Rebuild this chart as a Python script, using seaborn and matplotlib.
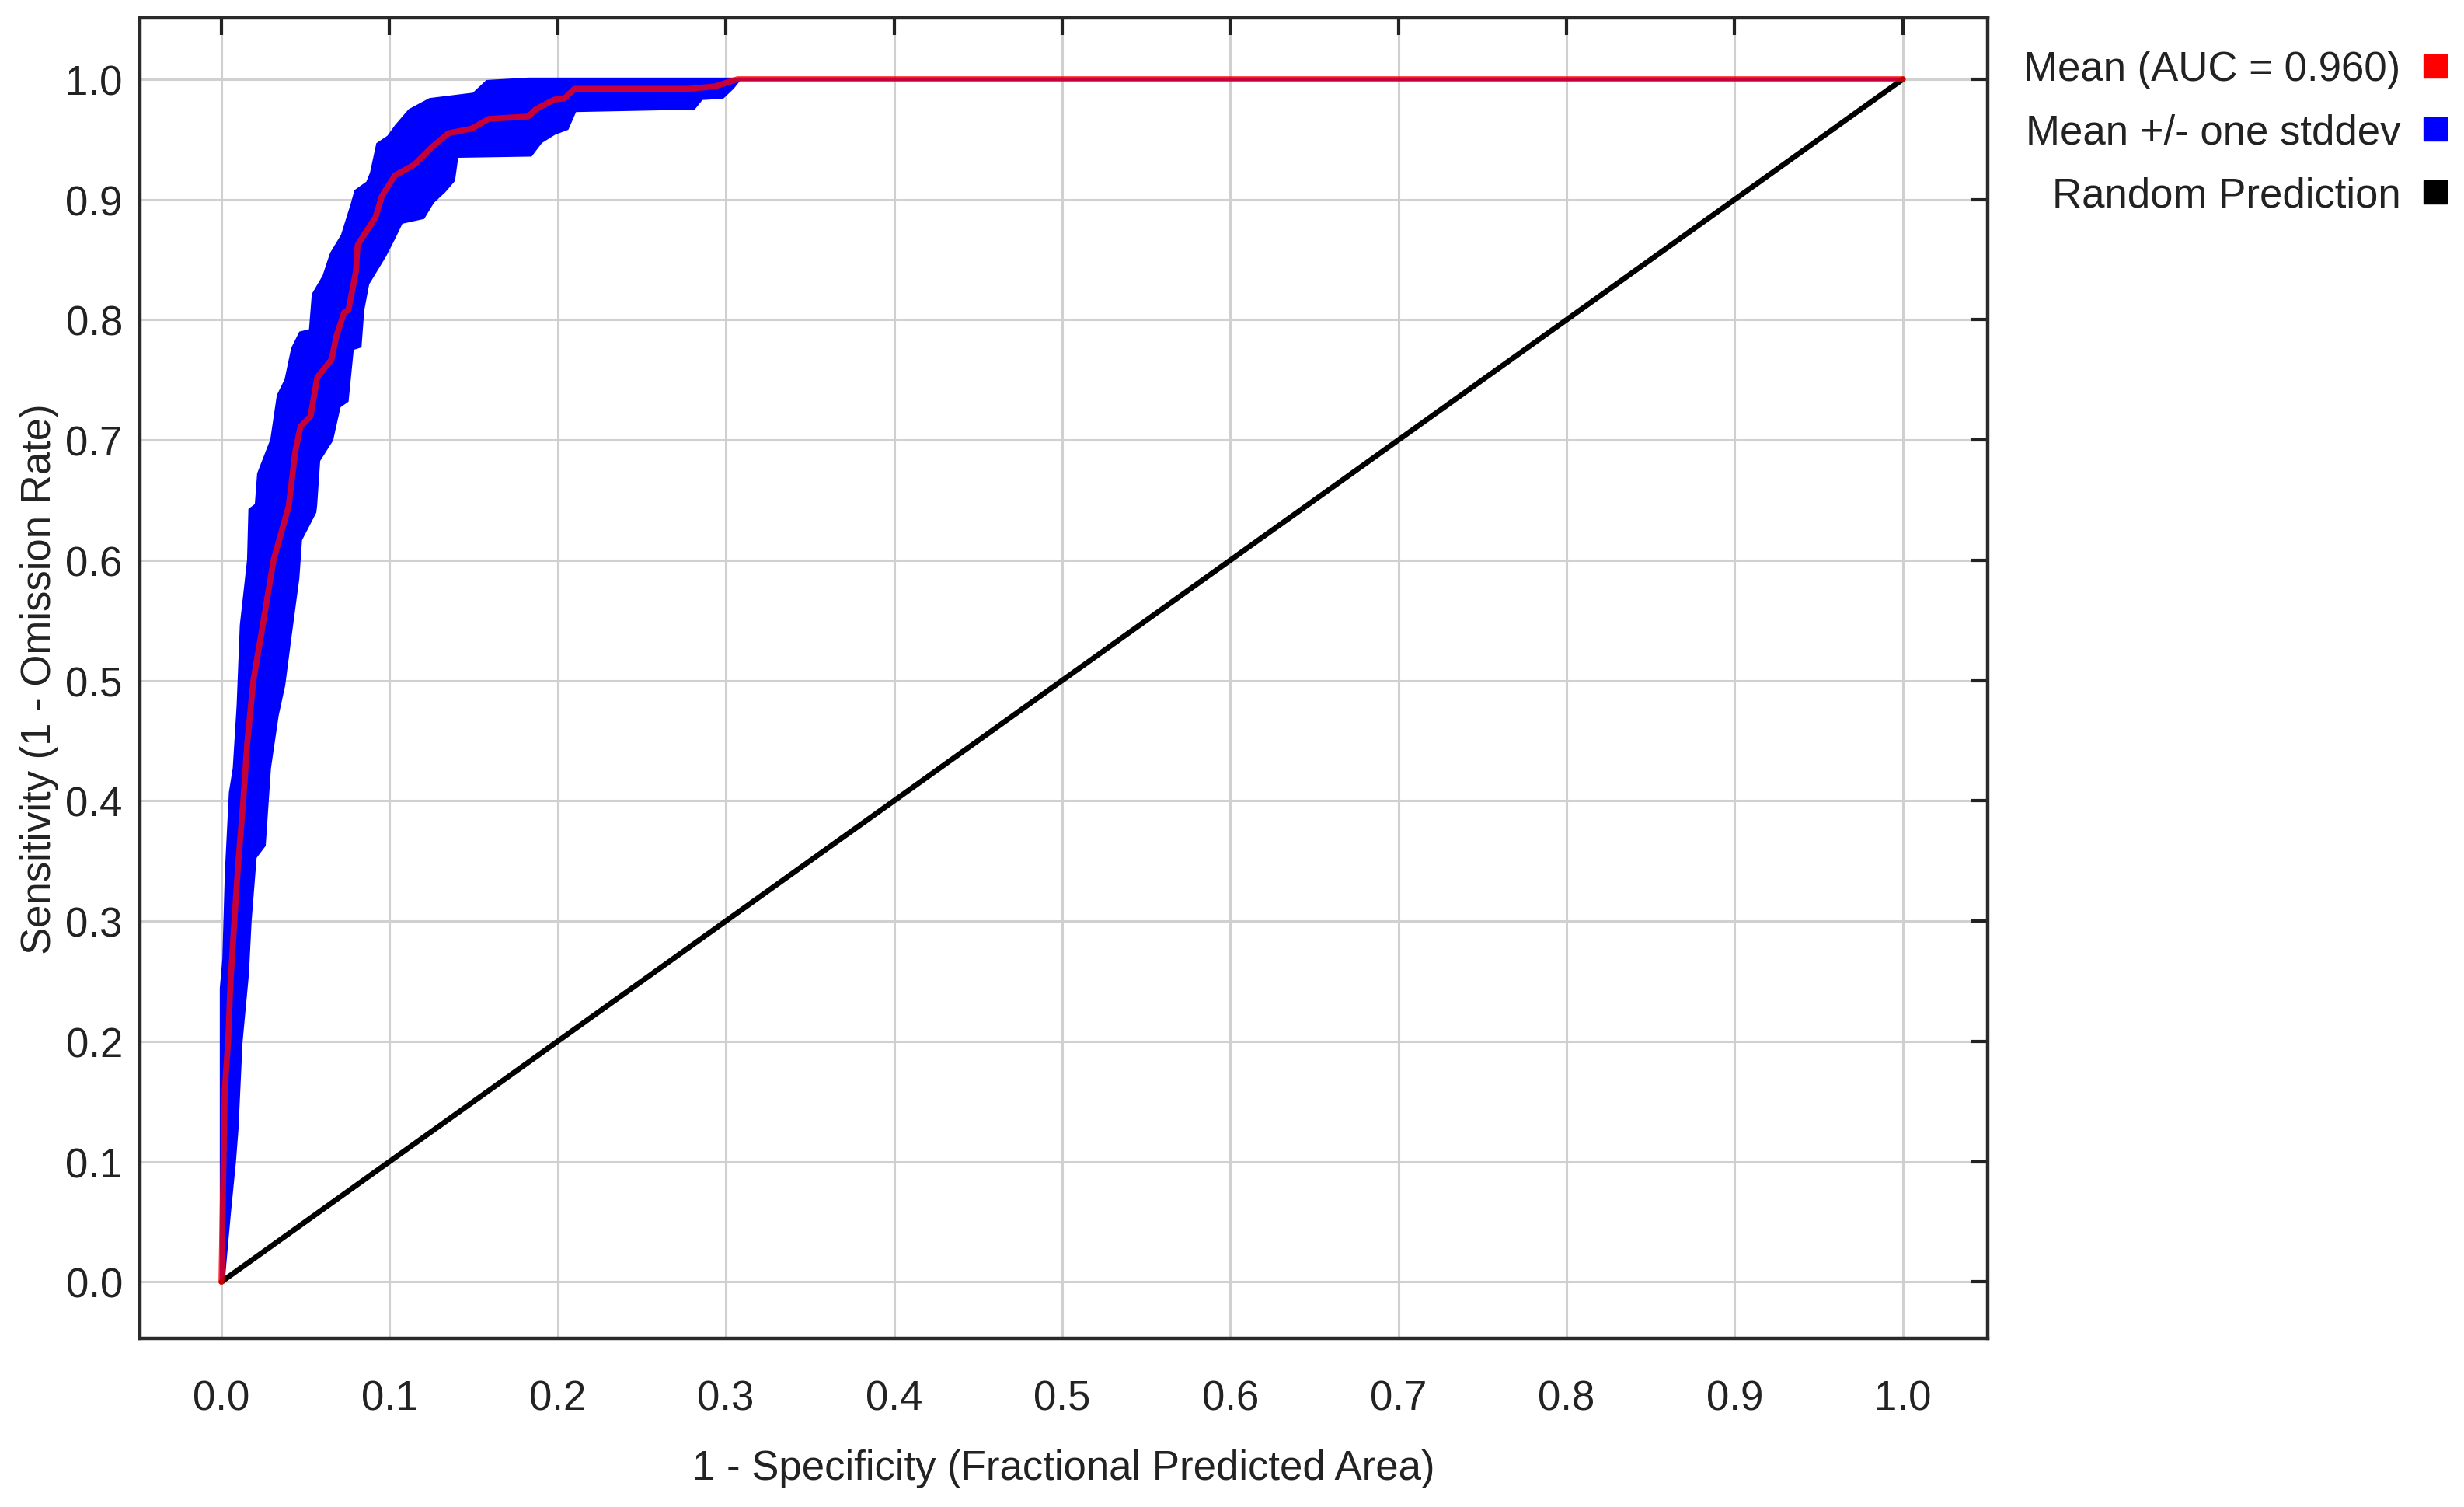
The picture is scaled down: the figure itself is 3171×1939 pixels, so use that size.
import numpy as np
import pandas as pd
import matplotlib
matplotlib.use("Agg")
import matplotlib.pyplot as plt
from matplotlib.lines import Line2D
import seaborn as sns

# Mean ROC curve (1 - specificity, sensitivity)
mean_x = [0.0, 0.002, 0.004, 0.0054, 0.0077, 0.010, 0.013, 0.0153, 0.019, 0.0246,
          0.031, 0.040, 0.0439, 0.047, 0.053, 0.057, 0.0655, 0.0685, 0.073,
          0.0755, 0.080, 0.081, 0.0855, 0.0916, 0.0955, 0.1032, 0.1148, 0.1256, 0.135,
          0.149, 0.159, 0.1825, 0.187, 0.198, 0.204, 0.210, 0.278, 0.2934, 0.307, 1.0]
mean_y = [0.0, 0.16, 0.20, 0.249, 0.30, 0.348, 0.40, 0.447, 0.50, 0.546,
          0.60, 0.645, 0.690, 0.711, 0.7197, 0.752, 0.767, 0.787, 0.806,
          0.808, 0.840, 0.862, 0.872, 0.885, 0.903, 0.920, 0.929, 0.944, 0.955,
          0.959, 0.967, 0.969, 0.975, 0.983, 0.984, 0.992, 0.992, 0.994, 1.0, 1.0]

# Mean + one stddev (upper edge of band)
upper_x = [0.0, 0.0, 0.0015, 0.003, 0.0054, 0.0077, 0.010, 0.0119, 0.0162, 0.017,
           0.0208, 0.0222, 0.030, 0.0339, 0.0385, 0.0424, 0.047, 0.053, 0.0547, 0.061,
           0.0655, 0.072, 0.0778, 0.080, 0.087, 0.0893, 0.093, 0.0994, 0.104, 0.112,
           0.124, 0.150, 0.158, 0.1826, 1.0]
upper_y = [0.0, 0.244, 0.268, 0.340, 0.407, 0.427, 0.479, 0.546, 0.600, 0.642,
           0.646, 0.672, 0.700, 0.737, 0.750, 0.776, 0.789, 0.791, 0.821, 0.836,
           0.855, 0.870, 0.896, 0.907, 0.914, 0.922, 0.946, 0.952, 0.961, 0.974,
           0.983, 0.9875, 0.998, 1.0, 1.0]

# Mean - one stddev (lower edge of band)
lower_x = [0.0, 0.001, 0.0046, 0.0077, 0.0092, 0.0116, 0.0154, 0.017, 0.020, 0.0254,
           0.0285, 0.0331, 0.037, 0.0407, 0.0454, 0.047, 0.0555, 0.056, 0.0578, 0.0655,
           0.070, 0.0747, 0.0778, 0.0824, 0.084, 0.087, 0.097, 0.1025, 0.107, 0.120,
           0.1256, 0.1325, 0.138, 0.140, 0.184, 0.190, 0.198, 0.2056, 0.2103, 0.281,
           0.2856, 0.298, 0.304, 0.308, 1.0]
lower_y = [0.0, 0.0, 0.056, 0.100, 0.127, 0.199, 0.256, 0.300, 0.353, 0.363,
           0.427, 0.471, 0.496, 0.536, 0.585, 0.617, 0.640, 0.646, 0.683, 0.700,
           0.728, 0.7326, 0.776, 0.778, 0.808, 0.830, 0.853, 0.868, 0.881, 0.885,
           0.898, 0.907, 0.916, 0.936, 0.937, 0.948, 0.955, 0.959, 0.974, 0.976,
           0.984, 0.985, 0.993, 1.0, 1.0]

# Random prediction diagonal
random_x = [0.0, 1.0]
random_y = [0.0, 1.0]

ticks = [round(i * 0.1, 1) for i in range(11)]
legend_labels = ["Mean (AUC = 0.960)", "Mean +/- one stddev", "Random Prediction"]
legend_colors = ["#ff0000", "#0000ff", "#000000"]

sns.set_theme(style="white")
plt.rcParams["font.family"] = ["Liberation Sans", "DejaVu Sans"]
text_color = "#222222"

fig = plt.figure(figsize=(31.71, 19.40), dpi=100)
ax = fig.add_axes([0.05676, 0.11186, 0.7499, 0.87577])

# std band as a filled polygon
band_x = np.concatenate([upper_x, lower_x[::-1]])
band_y = np.concatenate([upper_y, lower_y[::-1]])
ax.fill(band_x, band_y, facecolor="#0000ff", edgecolor="#0000ff", linewidth=3, zorder=2)

diag = pd.DataFrame({"x": random_x, "y": random_y})
sns.lineplot(data=diag, x="x", y="y", color="black", linewidth=5,
             sort=False, estimator=None, ax=ax, zorder=3)

mean_df = pd.DataFrame({"x": mean_x, "y": mean_y})
sns.lineplot(data=mean_df, x="x", y="y", color="#ff0000", linewidth=5.5, alpha=0.78,
             sort=False, estimator=None, ax=ax, zorder=4)

ax.set_xlim(-0.0485, 1.0504)
ax.set_ylim(-0.047, 1.051)
ax.set_xticks(ticks)
ax.set_yticks(ticks)
ax.set_xticklabels([f"{t:.1f}" for t in ticks])
ax.set_yticklabels([f"{t:.1f}" for t in ticks])
ax.grid(True, color="#d0d0d0", linewidth=2.2, zorder=0)
ax.set_axisbelow(True)

ax.tick_params(axis="both", direction="in", length=16, width=3, colors="#222222",
               labelsize=38, labelcolor=text_color, top=True, right=True)
ax.tick_params(axis="x", pad=38)
ax.tick_params(axis="y", pad=16)
for sp in ax.spines.values():
    sp.set_visible(True)
    sp.set_color("#2a2a2a")
    sp.set_linewidth(3.2)

ax.set_xlabel("1 - Specificity (Fractional Predicted Area)", fontsize=38,
              color=text_color, labelpad=28)
ax.set_ylabel("Sensitivity (1 - Omission Rate)", fontsize=38,
              color=text_color, labelpad=6)

handles = [Line2D([], [], marker="s", linestyle="none", color=c, markersize=21)
           for c in legend_colors]
fig.legend(handles, legend_labels, loc="upper right", bbox_to_anchor=(0.9934, 0.9665),
           frameon=False, markerfirst=False, fontsize=38, borderpad=0, borderaxespad=0,
           handlelength=0.6, handletextpad=0.55, labelspacing=0.59,
           labelcolor=text_color)

fig.savefig("out.png", dpi=100, facecolor="white")
